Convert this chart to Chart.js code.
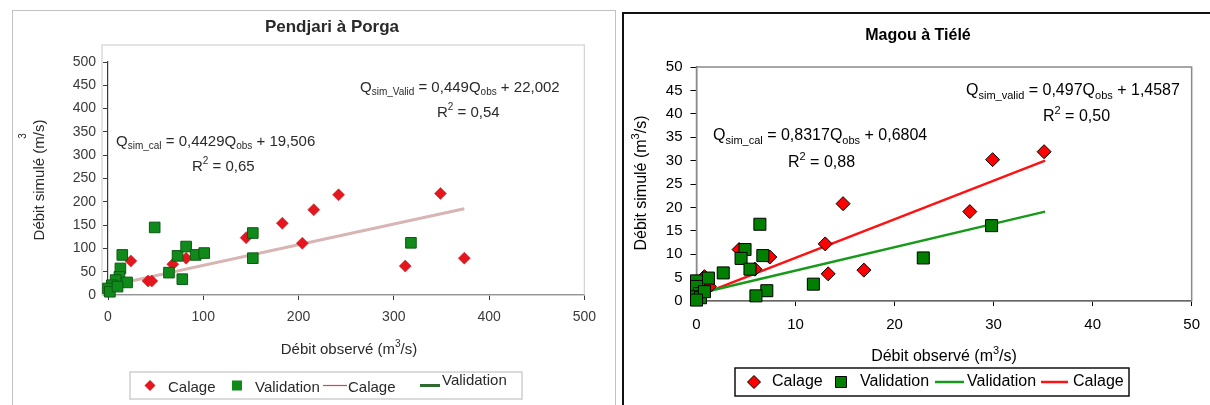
<!DOCTYPE html>
<html>
<head>
<meta charset="utf-8">
<title>Débit simulé / observé</title>
<script src="https://cdn.jsdelivr.net/npm/chart.js@4.4.1/dist/chart.umd.min.js"></script>
<style>
  body { margin: 0; width: 1210px; height: 405px; background: #fff; position: relative; overflow: hidden; }
  .frame { position: absolute; box-sizing: border-box; }
  #leftFrame { left: 12px; top: 10px; width: 604px; height: 410px; border: 1.5px solid #c2c2c2; }
  #rightFrame { left: 622px; top: 12px; width: 610px; height: 410px; border: 2px solid #111; }
  .box { position: absolute; top: 0; width: 605px; height: 405px; }
</style>
</head>
<body>
<div id="leftFrame" class="frame"></div>
<div id="rightFrame" class="frame"></div>
<div class="box" style="left:0"><canvas id="pendjariChart"></canvas></div>
<div class="box" style="left:605px"><canvas id="magouChart"></canvas></div>
<script>
const FONT = '"Liberation Sans", Arial, sans-serif';

// Pendjari à Porga
const pendjariCalObs = [24, 42, 46, 68, 82, 145, 183, 204, 216, 242, 312, 349, 374, 3, 8];
const pendjariCalSim = [73, 30, 30, 66, 79, 123, 154, 111, 183, 215, 62, 218, 79, 16, 22];
const pendjariValObs = [15, 13, 12, 20, 8, 4, 0, 2, 10, 49, 64, 73, 78, 82, 92, 101, 152, 152, 318];
const pendjariValSim = [86, 57, 39, 27, 32, 21, 14, 7, 18, 145, 48, 84, 34, 104, 86, 90, 133, 79, 112];
const pendjariCalTrendObs = [0, 374];
const pendjariCalTrendSim = [19.5, 185];
const pendjariValTrendObs = [0, 20];
const pendjariValTrendSim = [22, 31];

// Magou à Tiélé
const magouCalObs = [35.1, 29.9, 27.6, 14.8, 13.0, 13.3, 16.9, 7.4, 5.9, 4.3, 0.8, 1.3, 0.1];
const magouCalSim = [31.9, 30.2, 19.1, 20.8, 12.2, 5.8, 6.6, 9.4, 6.8, 11.0, 5.2, 3.1, 0.9];
const magouValObs = [29.8, 22.9, 11.8, 7.1, 6.0, 6.4, 6.7, 4.9, 4.5, 5.4, 2.7, 1.2, 0, 0, 0.3, 0, 0.4, 0.8, 0];
const magouValSim = [16.1, 9.2, 3.6, 2.2, 1.1, 16.4, 9.7, 11.0, 9.1, 6.8, 6.0, 4.9, 4.3, 3.1, 1.6, 0.9, 0.7, 2.0, 0.2];
const magouCalTrendObs = [0, 35.2];
const magouCalTrendSim = [1.0, 30.0];
const magouValTrendObs = [0, 35.2];
const magouValTrendSim = [1.5, 19.1];

function pts(xs, ys) {
  return xs.map((x, i) => ({ x: x, y: ys[i] }));
}

// text like "Q_{sim_cal} = 0,4429Q_{obs}" or "R^{2} = 0,65"
function parseRich(str) {
  const parts = [];
  const re = /([_^])\{([^}]*)\}/g;
  let last = 0, m;
  while ((m = re.exec(str)) !== null) {
    if (m.index > last) parts.push({ t: str.slice(last, m.index) });
    parts.push({ t: m[2], sub: m[1] === '_', sup: m[1] === '^' });
    last = re.lastIndex;
  }
  if (last < str.length) parts.push({ t: str.slice(last) });
  return parts;
}

function drawRich(ctx, str, x, y, size, o) {
  o = o || {};
  const parts = parseRich(str);
  const weight = o.bold ? 'bold ' : '';
  const fontFor = p => weight + (p.sub || p.sup ? Math.round(size * 0.66) : size) + 'px ' + FONT;
  let w = 0;
  parts.forEach(p => { ctx.font = fontFor(p); w += ctx.measureText(p.t).width; });
  let cx = o.center ? x - w / 2 : x;
  ctx.textAlign = 'left';
  ctx.textBaseline = 'middle';
  parts.forEach(p => {
    ctx.font = fontFor(p);
    const dy = p.sub ? size * 0.3 : (p.sup ? -size * 0.38 : 0);
    ctx.fillText(p.t, cx, y + dy);
    cx += ctx.measureText(p.t).width;
  });
}

function drawMarker(ctx, kind, x, y, r, fill, stroke) {
  ctx.save();
  ctx.fillStyle = fill;
  ctx.strokeStyle = stroke;
  ctx.lineWidth = 1;
  ctx.beginPath();
  if (kind === 'diamond') {
    ctx.moveTo(x, y - r); ctx.lineTo(x + r, y); ctx.lineTo(x, y + r); ctx.lineTo(x - r, y); ctx.closePath();
  } else {
    ctx.rect(x - r, y - r, 2 * r, 2 * r);
  }
  ctx.fill();
  if (stroke) ctx.stroke();
  ctx.restore();
}

const panelPlugin = {
  id: 'panel',
  beforeDatasetsDraw(chart, args, opts) {
    const a = chart.chartArea;
    const ctx = chart.ctx;
    ctx.save();
    ctx.strokeStyle = opts.frameColor;
    ctx.lineWidth = opts.frameWidth;
    ctx.strokeRect(a.left - opts.frameLeft, a.top - opts.frameTop, a.right - a.left + opts.frameLeft, a.bottom - a.top + opts.frameTop);
    ctx.restore();
  },
  afterDraw(chart, args, opts) {
    const ctx = chart.ctx;
    ctx.save();
    ctx.fillStyle = opts.textColor;
    drawRich(ctx, opts.title.text, opts.title.x, opts.title.y, opts.title.size, { bold: true, center: true });
    drawRich(ctx, opts.xTitle.text, opts.xTitle.x, opts.xTitle.y, opts.xTitle.size, { center: true });

    ctx.save();
    ctx.translate(opts.yTitle.x, opts.yTitle.y);
    ctx.rotate(-Math.PI / 2);
    drawRich(ctx, opts.yTitle.text, 0, 0, opts.yTitle.size, { center: true });
    ctx.restore();
    if (opts.yExtra) {
      ctx.save();
      ctx.translate(opts.yExtra.x, opts.yExtra.y);
      ctx.rotate(-Math.PI / 2);
      drawRich(ctx, opts.yExtra.text, 0, 0, opts.yExtra.size, { center: true });
      ctx.restore();
    }

    opts.equations.forEach(e => drawRich(ctx, e.text, e.x, e.y, e.size));

    // legend
    const lg = opts.legend;
    ctx.save();
    ctx.strokeStyle = lg.border;
    ctx.lineWidth = lg.borderWidth;
    ctx.strokeRect(lg.x, lg.y, lg.w, lg.h);
    ctx.restore();
    lg.items.forEach(it => {
      const ds = chart.data.datasets[it.index];
      const cy = lg.y + lg.h / 2 + (it.dy || 0);
      if (it.kind === 'line') {
        ctx.save();
        ctx.strokeStyle = it.color || ds.borderColor;
        ctx.lineWidth = it.width || ds.borderWidth;
        ctx.beginPath();
        ctx.moveTo(it.x0, lg.y + lg.h / 2 + (it.lineDy || 0));
        ctx.lineTo(it.x1, lg.y + lg.h / 2 + (it.lineDy || 0));
        ctx.stroke();
        ctx.restore();
      } else {
        drawMarker(ctx, it.kind, it.x0, lg.y + lg.h / 2, it.r, ds.backgroundColor, lg.markerStroke ? ds.borderColor : null);
      }
      ctx.fillStyle = opts.textColor;
      drawRich(ctx, ds.label, it.tx, cy, lg.size);
    });
    ctx.restore();
  }
};

function linearAxis(min, max, step, size, color, pad, tickLen, fit, horizontal) {
  return {
    type: 'linear',
    min: min,
    max: max,
    ticks: { stepSize: step, padding: pad, color: color, font: { family: FONT, size: size } },
    grid: { display: true, drawOnChartArea: false, drawTicks: true, tickLength: tickLen, color: color, lineWidth: 1 },
    border: { display: true, color: color, width: 1.2 },
    afterFit: function (scale) {
      if (horizontal) scale.height = fit; else scale.width = fit;
    }
  };
}

function initPendjari() {
  const canvas = document.getElementById('pendjariChart');
  new Chart(canvas, {
    type: 'scatter',
    data: {
      datasets: [
        { label: 'Calage', data: pts(pendjariCalObs, pendjariCalSim), pointStyle: 'rectRot', pointRadius: 6,
          backgroundColor: '#e3171d', borderColor: '#c81418', borderWidth: 0.5, clip: false, order: 1 },
        { label: 'Validation', data: pts(pendjariValObs, pendjariValSim), pointStyle: 'rect', pointRadius: 7.5,
          backgroundColor: '#118a1c', borderColor: '#0b5a12', borderWidth: 1, clip: false, order: 0 },
        { label: 'Calage', type: 'line', data: pts(pendjariCalTrendObs, pendjariCalTrendSim), showLine: true,
          pointRadius: 0, borderColor: '#d8b4b4', borderWidth: 3, order: 3 },
        { label: 'Validation', type: 'line', data: pts(pendjariValTrendObs, pendjariValTrendSim), showLine: true,
          pointRadius: 0, borderColor: '#7a9a3a', borderWidth: 2, order: 2 }
      ]
    },
    options: {
      responsive: true,
      maintainAspectRatio: false,
      animation: false,
      layout: { padding: { left: 8, right: 14, top: 62, bottom: 80 } },
      scales: {
        x: linearAxis(0, 500, 100, 14, '#3a3a3a', 9, 5, 30, true),
        y: linearAxis(0, 500, 50, 14, '#3a3a3a', 7, 5, 100, false)
      },
      plugins: {
        legend: { display: false },
        tooltip: { enabled: false },
        panel: {
          textColor: '#2a2a2a',
          frameColor: '#d2d2d2', frameWidth: 1.2, frameLeft: 6, frameTop: 17,
          title: { text: 'Pendjari à Porga', x: 332, y: 27, size: 17 },
          xTitle: { text: 'Débit observé (m^{3}/s)', x: 349, y: 350, size: 15 },
          yTitle: { text: 'Débit simulé (m/s)', x: 40, y: 180, size: 15 },
          yExtra: { text: '3', x: 23, y: 136, size: 10 },
          equations: [
            { text: 'Q_{sim_Valid} = 0,449Q_{obs} + 22,002', x: 360, y: 88, size: 15 },
            { text: 'R^{2} = 0,54', x: 437, y: 113, size: 15 },
            { text: 'Q_{sim_cal} = 0,4429Q_{obs} + 19,506', x: 116, y: 142, size: 15 },
            { text: 'R^{2} = 0,65', x: 192, y: 167, size: 15 }
          ],
          legend: {
            x: 130, y: 372, w: 392, h: 27, border: '#cfcfcf', borderWidth: 1.5, size: 15, markerStroke: false,
            items: [
              { index: 0, kind: 'diamond', x0: 150, r: 5.5, tx: 168, dy: 2 },
              { index: 1, kind: 'square', x0: 237, r: 5, tx: 255, dy: 2 },
              { index: 2, kind: 'line', x0: 323, x1: 347, tx: 348, dy: 2, color: '#d0484c', width: 1.2 },
              { index: 3, kind: 'line', x0: 420, x1: 440, tx: 442, dy: -5, color: '#2f6a2f', width: 3 }
            ]
          }
        }
      }
    },
    plugins: [panelPlugin]
  });
}

function initMagou() {
  const canvas = document.getElementById('magouChart');
  new Chart(canvas, {
    type: 'scatter',
    data: {
      datasets: [
        { label: 'Calage', data: pts(magouCalObs, magouCalSim), pointStyle: 'rectRot', pointRadius: 7,
          backgroundColor: '#ff0000', borderColor: '#000', borderWidth: 1, clip: false, order: 1 },
        { label: 'Validation', data: pts(magouValObs, magouValSim), pointStyle: 'rect', pointRadius: 8.5,
          backgroundColor: '#007f00', borderColor: '#000', borderWidth: 1, clip: false, order: 0 },
        { label: 'Validation', type: 'line', data: pts(magouValTrendObs, magouValTrendSim), showLine: true,
          pointRadius: 0, borderColor: '#17991a', borderWidth: 2.5, order: 2 },
        { label: 'Calage', type: 'line', data: pts(magouCalTrendObs, magouCalTrendSim), showLine: true,
          pointRadius: 0, borderColor: '#ff1111', borderWidth: 2.5, order: 3 }
      ]
    },
    options: {
      responsive: true,
      maintainAspectRatio: false,
      animation: false,
      layout: { padding: { left: 0, right: 17, top: 67, bottom: 74 } },
      scales: {
        x: linearAxis(0, 50, 10, 15, '#000', 10, 5, 30, true),
        y: linearAxis(0, 50, 5, 15, '#000', 8, 6, 91.5, false)
      },
      plugins: {
        legend: { display: false },
        tooltip: { enabled: false },
        panel: {
          textColor: '#000',
          frameColor: '#8a8a8a', frameWidth: 1.5, frameLeft: 0, frameTop: 0,
          title: { text: 'Magou à Tiélé', x: 313, y: 36, size: 16 },
          xTitle: { text: 'Débit observé (m^{3}/s)', x: 339, y: 357, size: 16 },
          yTitle: { text: 'Débit simulé (m^{3}/s)', x: 37, y: 183, size: 16 },
          equations: [
            { text: 'Q_{sim_valid} = 0,497Q_{obs} + 1,4587', x: 361, y: 91, size: 16 },
            { text: 'R^{2} = 0,50', x: 438, y: 117, size: 16 },
            { text: 'Q_{sim_cal} = 0,8317Q_{obs} + 0,6804', x: 108, y: 136, size: 16 },
            { text: 'R^{2} = 0,88', x: 183, y: 163, size: 16 }
          ],
          legend: {
            x: 130, y: 368, w: 394, h: 28, border: '#111', borderWidth: 1.5, size: 16, markerStroke: true,
            items: [
              { index: 0, kind: 'diamond', x0: 149, r: 6.5, tx: 167 },
              { index: 1, kind: 'square', x0: 236, r: 5.5, tx: 255 },
              { index: 2, kind: 'line', x0: 330, x1: 359, tx: 362 },
              { index: 3, kind: 'line', x0: 436, x1: 463, tx: 468 }
            ]
          }
        }
      }
    },
    plugins: [panelPlugin]
  });
}

document.addEventListener('DOMContentLoaded', function () {
  initPendjari();
  initMagou();
});
</script>
</body>
</html>
